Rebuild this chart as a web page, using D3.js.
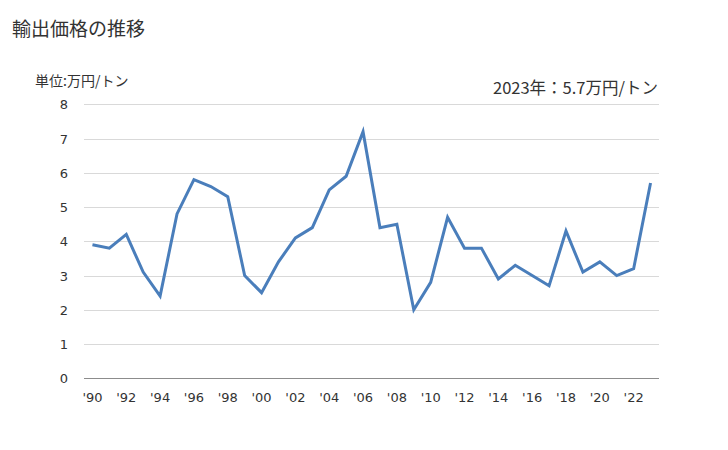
<!DOCTYPE html>
<html><head><meta charset="utf-8">
<script src="https://cdn.jsdelivr.net/npm/d3@7"></script>
<style>body{margin:0;background:#fff}svg{display:block}</style>
</head><body><svg id="c" width="728" height="450"></svg>
<script>
const years = d3.range(1990, 2024);
const values = [3.9,3.8,4.2,3.1,2.4,4.8,5.8,5.6,5.3,3.0,2.5,3.4,4.1,4.4,5.5,5.9,7.2,4.4,4.5,2.0,2.8,4.7,3.8,3.8,2.9,3.3,3.0,2.7,4.3,3.1,3.4,3.0,3.2,5.7];
const yTicks = [0,1,2,3,4,5,6,7,8];
const xTickYears = years.filter(y => y % 2 === 0);
const title = "輸出価格の推移";
const unitLabel = "単位:万円/トン";
const note = "2023年：5.7万円/トン";

const svg = d3.select("#c");
const m = {left:84, right:659, top:104.3, bottom:378.3};
const x = d3.scaleBand().domain(years).range([m.left, m.right]);
const y = d3.scaleLinear().domain([0,8]).range([m.bottom, m.top]);
const cx = d => x(d) + x.bandwidth()/2;
const jp = "'Noto Sans CJK JP', 'Noto Sans', sans-serif";
const num = "'DejaVu Sans', Verdana, sans-serif";

svg.append("text").attr("x",12).attr("y",36).attr("font-family",jp).attr("font-size",19).attr("fill","#333").text(title);
svg.append("text").attr("x",35).attr("y",86).attr("font-family",jp).attr("font-size",14).attr("fill","#333").text(unitLabel);
svg.append("text").attr("x",658).attr("y",94).attr("text-anchor","end").attr("font-family",jp).attr("font-size",16.5).attr("fill","#333").text(note);

// grid
svg.append("g").selectAll("line").data(yTicks.filter(t=>t>0)).join("line")
  .attr("x1",m.left).attr("x2",m.right).attr("y1",d=>Math.round(y(d))+0.5).attr("y2",d=>Math.round(y(d))+0.5)
  .attr("stroke","#d9d9d9").attr("stroke-width",1);
svg.append("line").attr("x1",m.left).attr("x2",m.right).attr("y1",Math.round(y(0))+0.5).attr("y2",Math.round(y(0))+0.5)
  .attr("stroke","#8c8c8c").attr("stroke-width",1);

// y labels
const yAxis = d3.axisLeft(y).tickValues(yTicks).tickSize(0).tickPadding(0);
const gy = svg.append("g").attr("transform",`translate(68,0)`).call(yAxis);
gy.select(".domain").remove();
gy.selectAll("text").attr("font-family",num).attr("font-size",13).attr("fill","#333").attr("dy","0.35em");

// x labels
const xAxis = d3.axisBottom(x).tickValues(xTickYears).tickSize(0).tickPadding(0)
  .tickFormat(d => "'" + String(d).slice(2));
const gx = svg.append("g").attr("transform",`translate(0,397)`).call(xAxis);
gx.select(".domain").remove();
gx.selectAll("text").attr("font-family",num).attr("font-size",13).attr("fill","#333").attr("dy","0.35em");

// line
const line = d3.line().x((d,i)=>cx(years[i])).y(d=>y(d));
svg.append("path").datum(values).attr("d",line).attr("fill","none")
  .attr("stroke","#4a7ebb").attr("stroke-width",3).attr("stroke-linejoin","miter");
</script></body></html>
